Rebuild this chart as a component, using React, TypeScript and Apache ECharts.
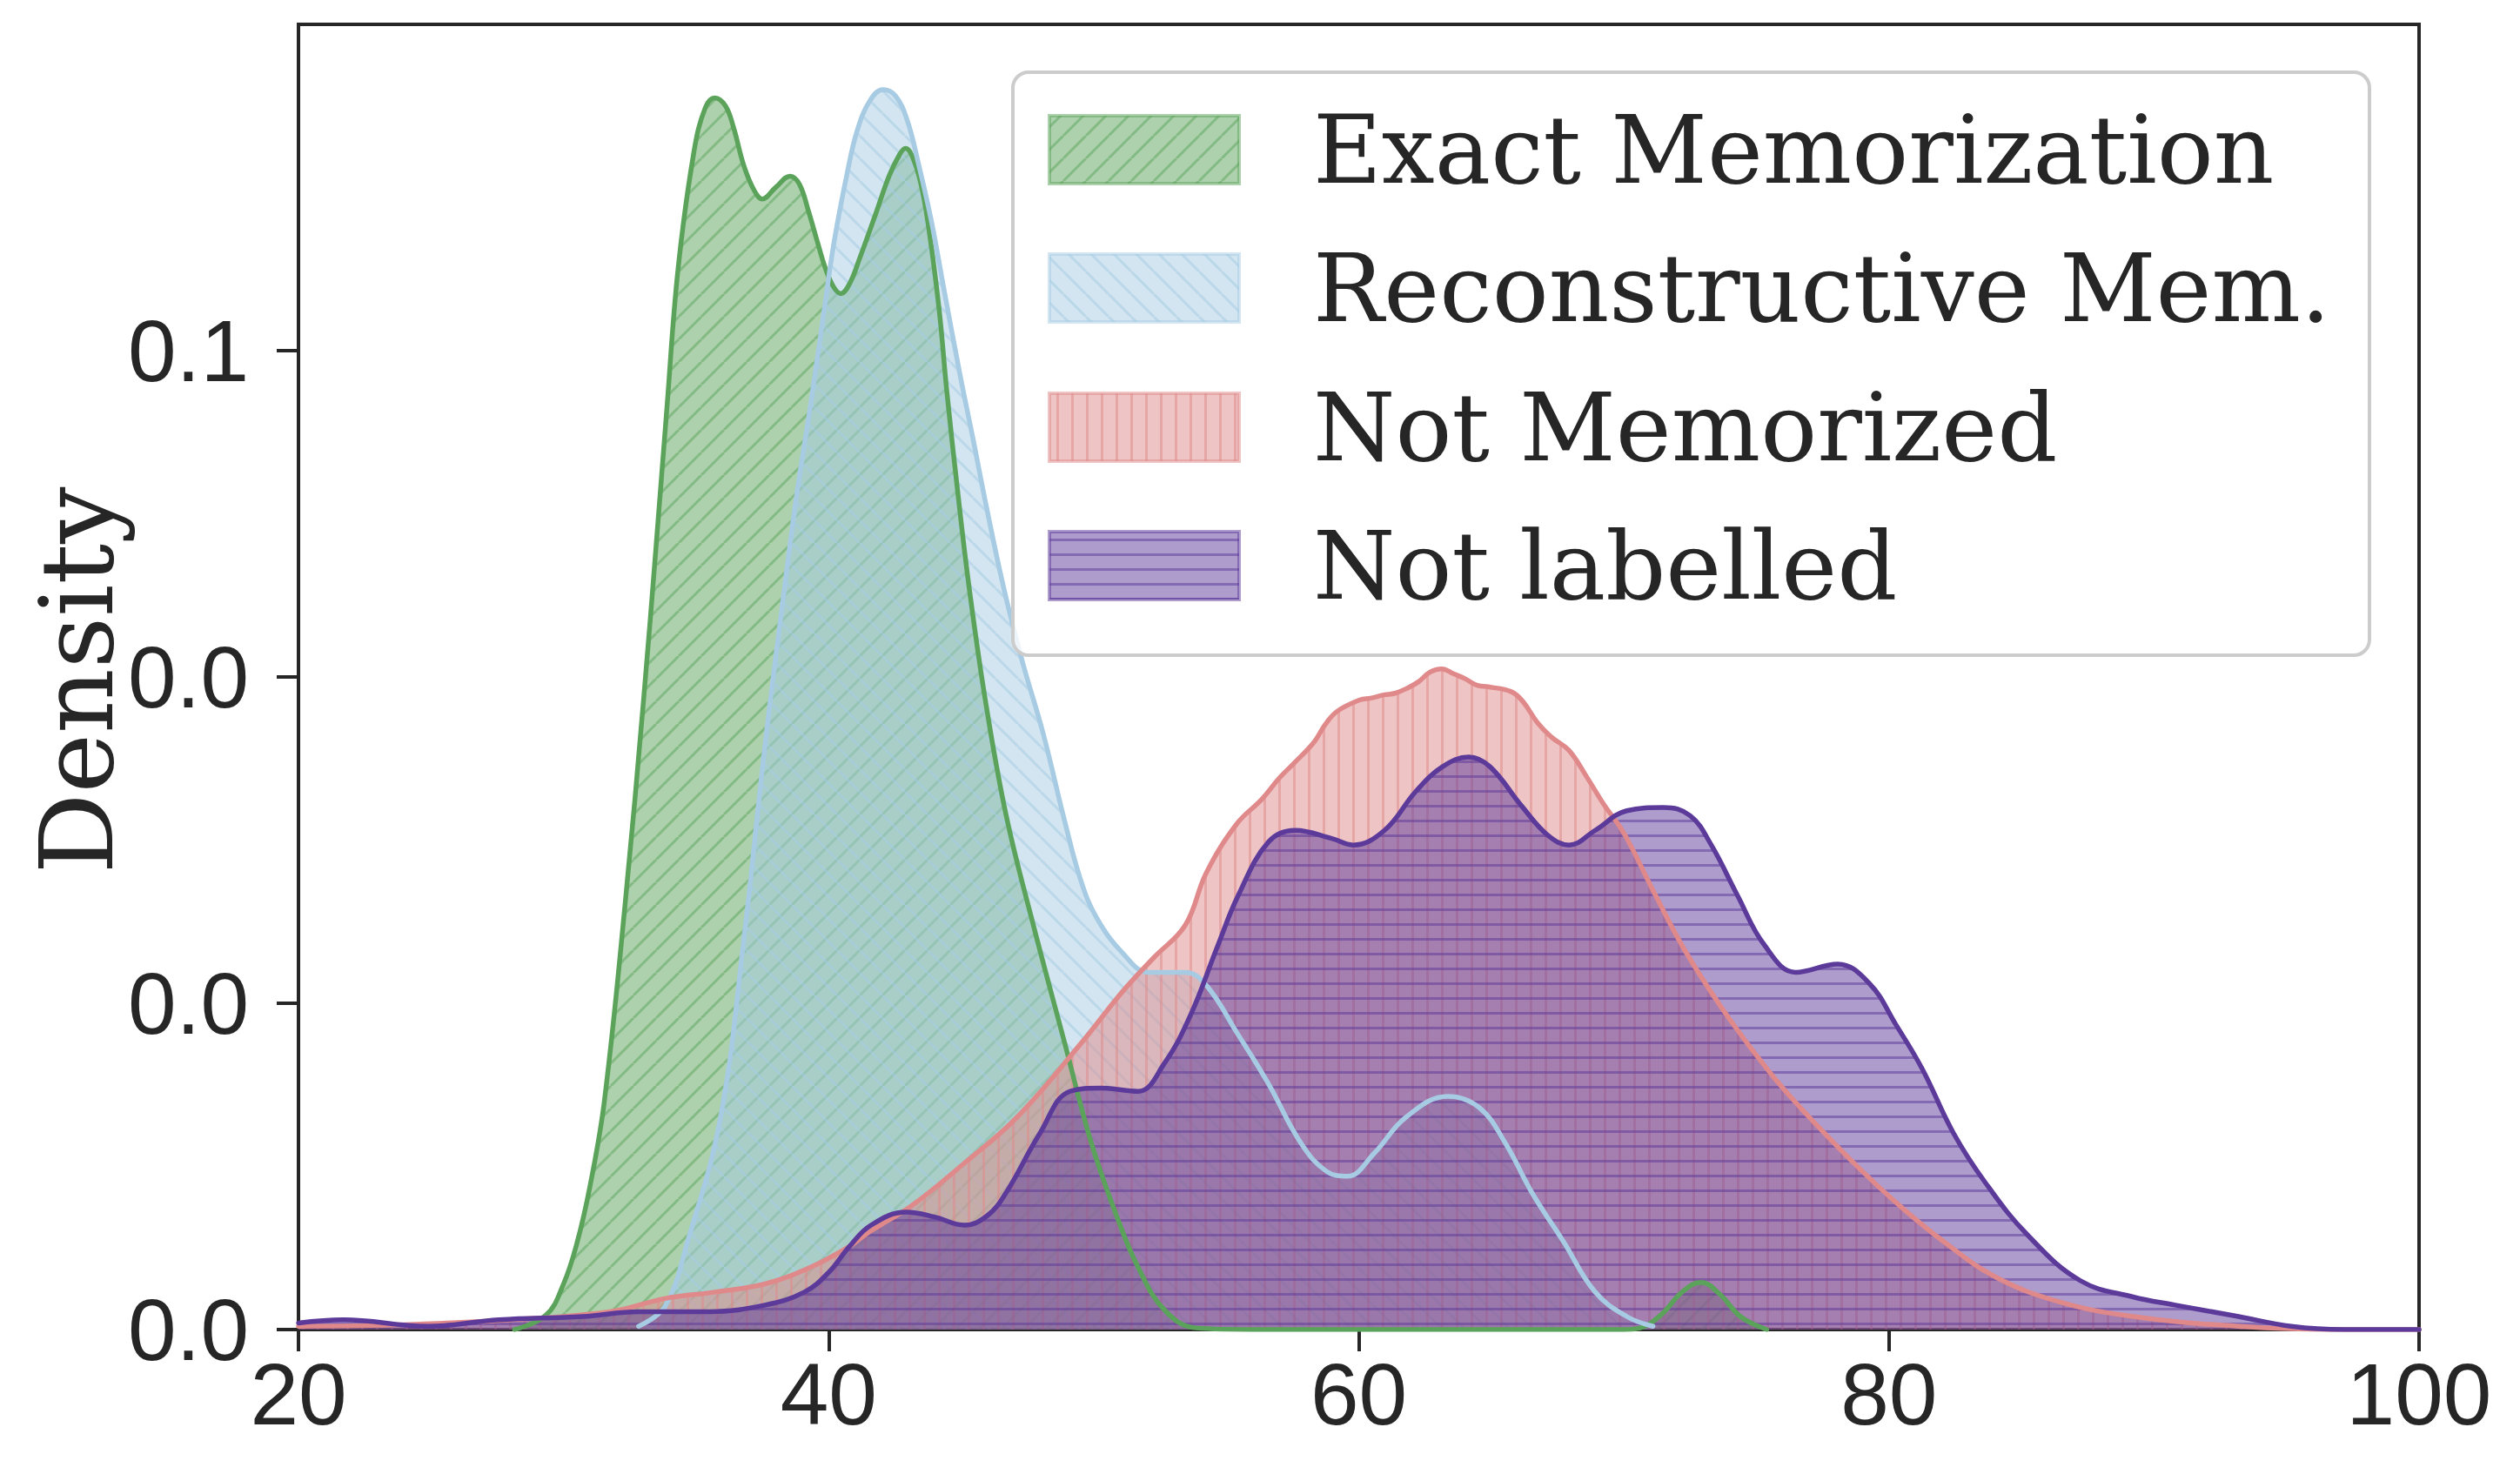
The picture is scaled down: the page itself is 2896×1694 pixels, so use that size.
import React, { useEffect, useRef } from 'react';
import * as echarts from 'echarts';

// ---- data ----
const exactX = [28.15, 29.35, 30.0, 30.49, 31.0, 31.54, 32.33, 33.03, 33.5, 33.9, 34.32, 34.92, 35.35, 35.71, 36.11, 36.41, 36.81, 37.2, 37.5, 38.0, 38.55, 38.9, 39.25, 39.59, 39.89, 40.19, 40.46, 40.79, 41.18, 41.78, 42.28, 42.67, 42.9, 43.13, 43.47, 43.77, 44.17, 44.46, 44.86, 45.3, 45.92, 46.7, 47.69, 48.9, 49.9, 50.88, 51.68, 52.67, 53.86, 56, 60, 65, 70, 70.62, 71.4, 72.2, 72.91, 73.6, 74.4, 75.39];
const exactY = [0, 0.0009, 0.0028, 0.0052, 0.0088, 0.0140, 0.0262, 0.0388, 0.0482, 0.0565, 0.0650, 0.0722, 0.0749, 0.0755, 0.0750, 0.0737, 0.0713, 0.0698, 0.0693, 0.0700, 0.0707, 0.0702, 0.0685, 0.0666, 0.0650, 0.0639, 0.0635, 0.0641, 0.0657, 0.0684, 0.0707, 0.0720, 0.0724, 0.0720, 0.0703, 0.0676, 0.0625, 0.0575, 0.0515, 0.0455, 0.0385, 0.0315, 0.0250, 0.0176, 0.0115, 0.0069, 0.0038, 0.0012, 0.0001, 0, 0, 0, 0, 0.0001, 0.0009, 0.0023, 0.0029, 0.0022, 0.0008, 0];

const reconX = [32.83, 33.82, 34.68, 35.91, 36.78, 37.6, 38.3, 38.8, 39.34, 39.79, 40.19, 40.69, 41.08, 41.55, 42.05, 42.53, 42.97, 43.37, 43.87, 44.37, 44.96, 45.46, 45.92, 46.6, 47.3, 48.1, 48.9, 49.5, 50.09, 51.08, 52.07, 53.46, 54.25, 55.44, 56.58, 57.83, 58.78, 59.58, 60.58, 61.77, 63.36, 64.55, 65.54, 66.53, 67.72, 68.92, 70.11, 71.1];
const reconY = [0.0002, 0.0014, 0.0054, 0.0129, 0.0236, 0.0358, 0.0450, 0.0512, 0.0569, 0.0620, 0.0665, 0.0708, 0.0735, 0.0753, 0.0760, 0.0756, 0.0741, 0.0716, 0.0680, 0.0636, 0.0585, 0.0545, 0.0507, 0.0455, 0.0410, 0.0365, 0.0312, 0.0276, 0.0253, 0.0231, 0.0219, 0.0219, 0.0211, 0.0181, 0.0151, 0.0114, 0.0097, 0.0094, 0.0108, 0.0130, 0.0143, 0.0136, 0.0114, 0.0084, 0.0054, 0.0023, 0.0008, 0.0002];

const notMemX = [20, 24, 28, 31.74, 33.82, 35.71, 37.6, 39.29, 40.79, 41.55, 43.14, 45.12, 47.1, 49.5, 51.08, 52.27, 53.46, 54.25, 55.4, 56.34, 57.0, 57.55, 58.31, 58.74, 59.19, 60.05, 60.45, 60.94, 61.37, 61.81, 62.25, 62.69, 63.13, 63.57, 64.0, 64.44, 64.88, 65.75, 66.19, 66.74, 67.28, 67.93, 68.59, 69.24, 70.01, 71.2, 72.39, 74.0, 75.69, 77.18, 78.87, 80.47, 82.06, 84.05, 86.43, 89.22, 93.2, 97, 100];
const notMemY = [0.0002, 0.0003, 0.0006, 0.0011, 0.0019, 0.0023, 0.0028, 0.0038, 0.0051, 0.0060, 0.0076, 0.0102, 0.0130, 0.0175, 0.0207, 0.0228, 0.0248, 0.0280, 0.0310, 0.0325, 0.0338, 0.0347, 0.0360, 0.0371, 0.0379, 0.0386, 0.0387, 0.0389, 0.0390, 0.0393, 0.0397, 0.0403, 0.0405, 0.0402, 0.0399, 0.0395, 0.0394, 0.0391, 0.0385, 0.0372, 0.0363, 0.0355, 0.0339, 0.0322, 0.0304, 0.0266, 0.0230, 0.0190, 0.0154, 0.0127, 0.0099, 0.0075, 0.0054, 0.0032, 0.0017, 0.0008, 0.0002, 0, 0];

const notLabX = [20, 21.69, 24.87, 27.56, 30.74, 32.83, 35.51, 37.6, 39.09, 40.0, 40.79, 41.6, 42.93, 44.0, 45.12, 46.0, 46.7, 47.96, 49.1, 50.28, 51.67, 52.66, 53.66, 54.65, 55.45, 56.6, 57.6, 58.98, 59.78, 60.97, 62.16, 63.16, 64.15, 64.95, 66.14, 67.13, 67.93, 68.92, 70.11, 71.5, 72.5, 73.3, 74.29, 75.29, 76.48, 78.07, 79.27, 80.26, 81.25, 82.45, 83.64, 85.23, 87.22, 89.21, 90.8, 93.19, 95.18, 97.16, 100];
const notLabY = [0.0004, 0.0006, 0.0002, 0.0006, 0.0008, 0.0011, 0.0011, 0.0015, 0.0023, 0.0035, 0.0051, 0.0064, 0.0072, 0.0069, 0.0064, 0.0070, 0.0084, 0.0120, 0.0146, 0.0148, 0.0146, 0.0163, 0.0193, 0.0234, 0.0266, 0.0299, 0.0306, 0.0301, 0.0297, 0.0306, 0.0330, 0.0345, 0.0351, 0.0345, 0.0321, 0.0303, 0.0297, 0.0306, 0.0318, 0.0320, 0.0315, 0.0297, 0.0266, 0.0236, 0.0219, 0.0224, 0.0212, 0.0187, 0.0160, 0.0120, 0.0090, 0.0058, 0.0030, 0.0020, 0.0015, 0.0008, 0.0002, 0, 0];

const seriesNames = ['Exact Memorization', 'Reconstructive Mem.', 'Not Memorized', 'Not labelled'];
const xTicks = [20, 40, 60, 80, 100];
const yTicks = [0, 0.02, 0.04, 0.06];

// ---- styles ----
const edgeRGB = [[91, 163, 91], [166, 203, 227], [224, 137, 138], [91, 58, 154]];
const hatchKinds = ['/', '\\', '|', '-'];
const TEXT = '#262626';
const SANS = "'Liberation Sans', Arial, sans-serif";
const SERIF = "'DejaVu Serif', serif";

function rgba(rgb: number[], a: number) {
  return `rgba(${rgb[0]},${rgb[1]},${rgb[2]},${a})`;
}

function makeHatch(rgb: number[], kind: string) {
  const s = kind === '/' || kind === '\\' ? 26 : 17;
  const c = document.createElement('canvas');
  c.width = s;
  c.height = s;
  const ctx = c.getContext('2d')!;
  const col = rgba(rgb, 0.5);
  ctx.fillStyle = col;
  ctx.fillRect(0, 0, s, s);
  ctx.strokeStyle = col;
  ctx.lineWidth = 3;
  ctx.beginPath();
  if (kind === '|') {
    ctx.moveTo(s / 2, 0);
    ctx.lineTo(s / 2, s);
  } else if (kind === '-') {
    ctx.moveTo(0, s / 2);
    ctx.lineTo(s, s / 2);
  } else if (kind === '/') {
    for (const k of [-1, 0, 1]) {
      ctx.moveTo(k * s, s);
      ctx.lineTo(k * s + s, 0);
    }
  } else {
    for (const k of [-1, 0, 1]) {
      ctx.moveTo(k * s, 0);
      ctx.lineTo(k * s + s, s);
    }
  }
  ctx.stroke();
  return { image: c, repeat: 'repeat', imageWidth: s, imageHeight: s } as any;
}

function zip(xs: number[], ys: number[]) {
  return xs.map((x, i) => [x, ys[i]]);
}

export default function App() {
  const ref = useRef<HTMLDivElement>(null);

  useEffect(() => {
    document.body.style.margin = '0';
    const chart = echarts.init(ref.current!, null, { renderer: 'svg' });
    const patterns = edgeRGB.map((rgb, i) => makeHatch(rgb, hatchKinds[i]));
    const datasets = [zip(exactX, exactY), zip(reconX, reconY), zip(notMemX, notMemY), zip(notLabX, notLabY)];
    const smooth = 0.4;

    const areaSeries = [0, 1, 2, 3].map((i) => ({
      type: 'line',
      name: seriesNames[i] + ' fill',
      data: datasets[i],
      showSymbol: false,
      symbol: 'none',
      smooth,
      silent: true,
      z: 2,
      lineStyle: { width: 0, opacity: 0 },
      itemStyle: { color: rgba(edgeRGB[i], 1) },
      areaStyle: { color: patterns[i], opacity: 1 },
    }));
    const lineSeries = [0, 1, 2, 3].map((i) => ({
      type: 'line',
      name: seriesNames[i],
      data: datasets[i],
      showSymbol: false,
      symbol: 'none',
      smooth,
      silent: true,
      z: 3,
      lineStyle: { color: rgba(edgeRGB[i], 1), width: 5.5, join: 'round', cap: 'round' },
      itemStyle: { color: rgba(edgeRGB[i], 1) },
    }));

    const legendLeft = 1164;
    const legendTop = 83;
    const rowCenters = [172, 331, 491, 650];
    const legendEls: any[] = [
      {
        type: 'rect',
        z: 100,
        shape: { x: legendLeft, y: legendTop, width: 1559, height: 670, r: 18 },
        style: { fill: 'rgba(255,255,255,0.8)', stroke: '#cccccc', lineWidth: 4 },
      },
    ];
    seriesNames.forEach((name, i) => {
      legendEls.push({
        type: 'rect',
        z: 101,
        shape: { x: 1206, y: rowCenters[i] - 39, width: 218, height: 78 },
        style: { fill: patterns[i], stroke: rgba(edgeRGB[i], 0.5), lineWidth: 4 },
      });
      legendEls.push({
        type: 'text',
        z: 101,
        x: 1509,
        y: rowCenters[i],
        style: {
          text: name,
          font: `108px ${SERIF}`,
          fill: TEXT,
          textAlign: 'left',
          textVerticalAlign: 'middle',
        },
      });
    });
    legendEls.push({
      type: 'text',
      z: 101,
      x: 88,
      y: 782,
      rotation: Math.PI / 2,
      style: {
        text: 'Density',
        font: `116px ${SERIF}`,
        fill: TEXT,
        textAlign: 'center',
        textVerticalAlign: 'middle',
      },
    });

    chart.setOption({
      animation: false,
      backgroundColor: '#ffffff',
      grid: {
        left: 343,
        top: 28,
        width: 2437,
        height: 1500,
        show: true,
        borderColor: TEXT,
        borderWidth: 4,
        backgroundColor: 'transparent',
      },
      xAxis: {
        type: 'value',
        min: 20,
        max: 100,
        interval: 20,
        splitLine: { show: false },
        axisLine: { show: true, lineStyle: { color: TEXT, width: 4 } },
        axisTick: { show: true, length: 25, lineStyle: { color: TEXT, width: 4 }, customValues: xTicks },
        axisLabel: {
          customValues: xTicks,
          margin: 24,
          color: TEXT,
          fontSize: 100,
          fontFamily: SANS,
        },
      },
      yAxis: {
        type: 'value',
        min: 0,
        max: 0.08,
        interval: 0.02,
        splitLine: { show: false },
        axisLine: { show: true, lineStyle: { color: TEXT, width: 4 } },
        axisTick: { show: true, length: 25, lineStyle: { color: TEXT, width: 4 }, customValues: yTicks },
        axisLabel: {
          customValues: yTicks,
          margin: 57,
          color: TEXT,
          fontSize: 100,
          fontFamily: SANS,
          formatter: (v: number) => v.toFixed(1),
        },
      },
      series: [...areaSeries, ...lineSeries],
      graphic: { elements: legendEls },
    });

    return () => chart.dispose();
  }, []);

  return <div ref={ref} style={{ width: '2896px', height: '1694px' }} />;
}
